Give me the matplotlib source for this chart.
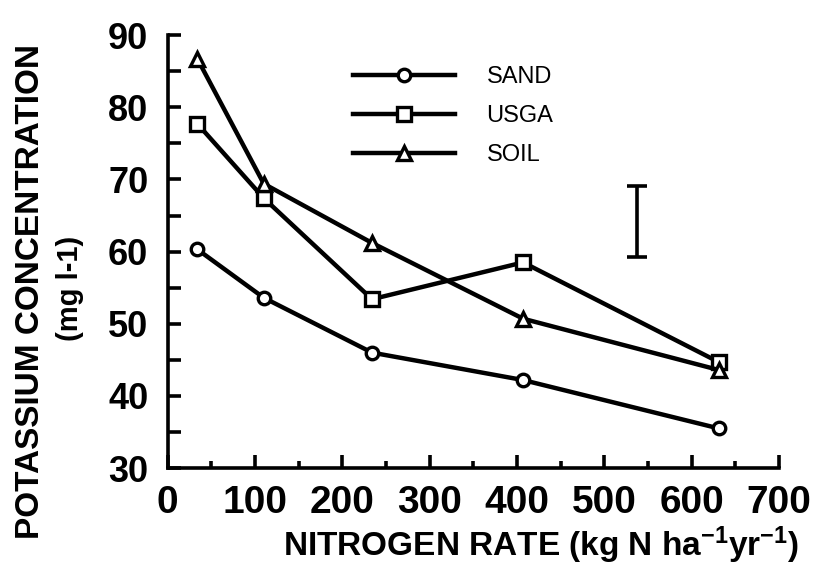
import numpy as np
import matplotlib
matplotlib.use("Agg")
import matplotlib.pyplot as plt
from matplotlib.ticker import MultipleLocator

plt.rcParams['font.family'] = ['Liberation Sans', 'DejaVu Sans']
plt.rcParams['mathtext.default'] = 'regular'

# nitrogen rate (kg N/ha/yr)
n_rate = [34, 110, 234, 407, 631]
# potassium concentration (mg/l)
sand = [60.3, 53.6, 46.0, 42.2, 35.5]
usga = [77.7, 67.4, 53.4, 58.5, 44.7]
soil = [86.7, 69.4, 61.2, 50.7, 43.6]
series_names = ['SAND', 'USGA', 'SOIL']

# LSD bar
lsd_x = [537]
lsd_mid = [64.15]
lsd_half = [4.95]

fig = plt.figure(figsize=(8.19, 5.66), dpi=100)
ax = fig.add_axes([0.2048, 0.173, 0.7462, 0.765])

markers = ['o', 's', '^']
sizes = [9, 9.5, 10]
for vals, name, mk, sz in zip([sand, usga, soil], series_names, markers, sizes):
    ax.plot(n_rate, vals, color='black', lw=3.2, marker=mk, ms=sz,
            mfc='white', mec='black', mew=2.4, label=name, clip_on=False)

ax.errorbar(lsd_x, lsd_mid, yerr=lsd_half, fmt='none', ecolor='black',
            elinewidth=2.6, capsize=7.5, capthick=2.6)

ax.set_xlim(0, 700)
ax.set_ylim(30, 90)
ax.xaxis.set_major_locator(MultipleLocator(100))
ax.xaxis.set_minor_locator(MultipleLocator(50))
ax.yaxis.set_major_locator(MultipleLocator(10))
ax.yaxis.set_minor_locator(MultipleLocator(5))

for s in ['top', 'right']:
    ax.spines[s].set_visible(False)
for s in ['left', 'bottom']:
    ax.spines[s].set_linewidth(2.6)

ax.tick_params(axis='both', which='both', direction='in', width=2.6)
ax.tick_params(axis='x', which='major', length=9.5, pad=12)
ax.tick_params(axis='x', which='minor', length=5)
ax.tick_params(axis='y', which='both', length=9.5, pad=14)

for lab in ax.get_xticklabels():
    lab.set_fontsize(28)
    lab.set_fontweight('bold')
for lab in ax.get_yticklabels():
    lab.set_fontsize(26)
    lab.set_fontweight('bold')

leg = ax.legend(loc='upper left', bbox_to_anchor=(0.284, 0.955), frameon=False,
                fontsize=17, handlelength=4.3, handletextpad=1.35,
                labelspacing=0.72, borderpad=0)

fig.text(0.66, 0.036, 'NITROGEN RATE (kg N ha$^{-1}$yr$^{-1}$)', ha='center', va='center',
         fontsize=24, fontweight='bold')
fig.text(0.037, 0.485, 'POTASSIUM CONCENTRATION', rotation=90, ha='center', va='center',
         fontsize=24, fontweight='bold')
fig.text(0.086, 0.49, '(mg l-1)', rotation=90, ha='center', va='center',
         fontsize=21, fontweight='bold')

fig.savefig('out.png', dpi=100)
